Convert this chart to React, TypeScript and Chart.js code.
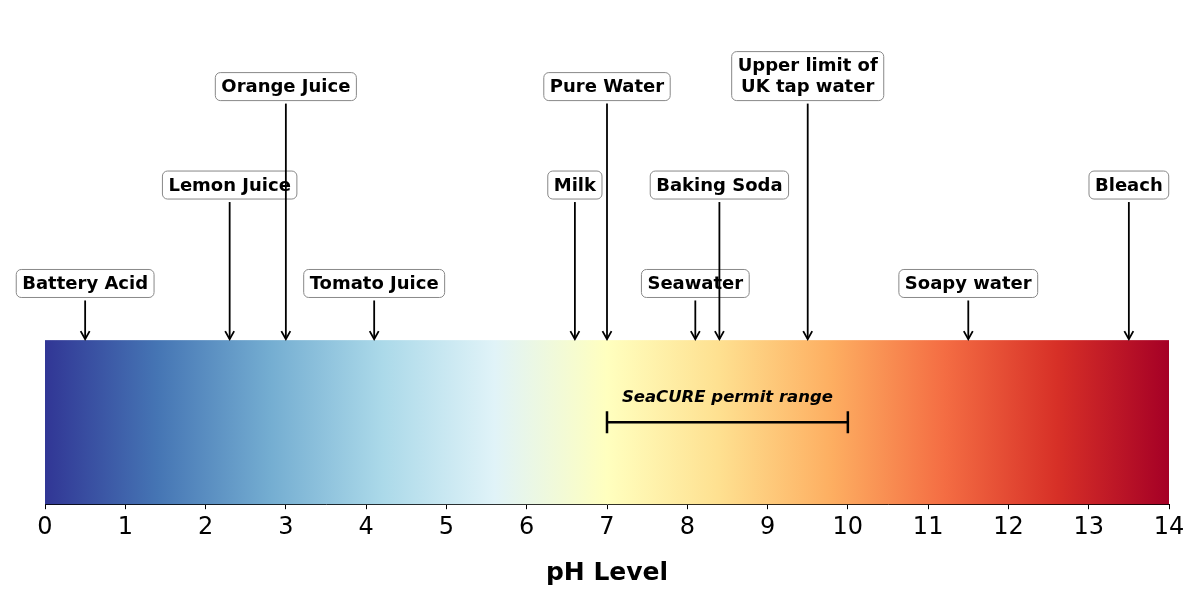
import React, { useEffect, useRef } from "react";
import { Chart, registerables } from "chart.js";

Chart.register(...registerables);

// Reference substances on the pH scale
const markerLabels = [
  "Battery Acid",
  "Lemon Juice",
  "Orange Juice",
  "Tomato Juice",
  "Milk",
  "Pure Water",
  "Seawater",
  "Baking Soda",
  "Upper limit of\nUK tap water",
  "Soapy water",
  "Bleach",
];
const markerPh = [0.5, 2.3, 3.0, 4.1, 6.6, 7.0, 8.1, 8.4, 9.5, 11.5, 13.5];
// Which row of labels each marker sits in (0 = closest to the bar)
const markerTier = [0, 1, 2, 0, 1, 2, 0, 1, 2, 0, 1];
// Bottom edge of each label row, in y units (bar spans 0..1)
const tierBottom = [1.26, 1.86, 2.46];

// SeaCURE operating window
const permitRange = [7, 10];
const permitLevel = 0.5;
const permitTextLevel = 0.65;
const permitText = "SeaCURE permit range";

// Axis ticks
const tickValues = [0, 1, 2, 3, 4, 5, 6, 7, 8, 9, 10, 11, 12, 13, 14];

// RdYlBu reversed
const colormapStops = [
  "#313695",
  "#4575b4",
  "#74add1",
  "#abd9e9",
  "#e0f3f8",
  "#ffffbf",
  "#fee090",
  "#fdae61",
  "#f46d43",
  "#d73027",
  "#a50026",
];

const FONT = "'DejaVu Sans', sans-serif";

const phScalePlugin = {
  id: "phScale",
  beforeDatasetsDraw(chart: any) {
    const { ctx, scales } = chart;
    const x = scales.x;
    const y = scales.y;
    const x0 = x.getPixelForValue(0);
    const x1 = x.getPixelForValue(14);
    const yTop = y.getPixelForValue(1);
    const yBot = y.getPixelForValue(0);
    const grad = ctx.createLinearGradient(x0, 0, x1, 0);
    colormapStops.forEach((c, i) => grad.addColorStop(i / (colormapStops.length - 1), c));
    ctx.save();
    ctx.fillStyle = grad;
    ctx.fillRect(x0, yTop, x1 - x0, yBot - yTop);
    ctx.restore();
  },
  afterDatasetsDraw(chart: any) {
    const { ctx, scales } = chart;
    const x = scales.x;
    const y = scales.y;
    ctx.save();

    // Permit range bracket
    const px0 = x.getPixelForValue(permitRange[0]);
    const px1 = x.getPixelForValue(permitRange[1]);
    const py = y.getPixelForValue(permitLevel);
    ctx.strokeStyle = "#000";
    ctx.lineWidth = 2.5;
    ctx.beginPath();
    ctx.moveTo(px0, py);
    ctx.lineTo(px1, py);
    ctx.moveTo(px0, py - 11);
    ctx.lineTo(px0, py + 11);
    ctx.moveTo(px1, py - 11);
    ctx.lineTo(px1, py + 11);
    ctx.stroke();
    ctx.fillStyle = "#000";
    ctx.font = `italic bold 16.5px ${FONT}`;
    ctx.textAlign = "center";
    ctx.textBaseline = "middle";
    ctx.fillText(
      permitText,
      x.getPixelForValue((permitRange[0] + permitRange[1]) / 2),
      y.getPixelForValue(permitTextLevel)
    );

    // Labelled arrows
    const fs = 18;
    const lineStep = 21;
    const padX = 6;
    const padY = 5;
    ctx.font = `bold ${fs}px ${FONT}`;
    const tipY = y.getPixelForValue(1) - 1;
    markerLabels.forEach((label, i) => {
      const lines = label.split("\n");
      const cx = x.getPixelForValue(markerPh[i]);
      const bottom = y.getPixelForValue(tierBottom[markerTier[i]]);
      const w = Math.max(...lines.map((l) => ctx.measureText(l).width)) + padX * 2;
      const h = fs + (lines.length - 1) * lineStep + padY * 2;
      const top = bottom - h;

      // arrow
      ctx.strokeStyle = "#000";
      ctx.lineWidth = 1.8;
      ctx.beginPath();
      ctx.moveTo(cx, bottom + 3);
      ctx.lineTo(cx, tipY);
      ctx.stroke();
      ctx.beginPath();
      ctx.moveTo(cx - 4.5, tipY - 8);
      ctx.lineTo(cx, tipY);
      ctx.lineTo(cx + 4.5, tipY - 8);
      ctx.stroke();

      // box
      ctx.fillStyle = "#fff";
      ctx.strokeStyle = "#888";
      ctx.lineWidth = 1;
      ctx.beginPath();
      ctx.roundRect(cx - w / 2, top, w, h, 5);
      ctx.fill();
      ctx.stroke();

      // text
      ctx.fillStyle = "#000";
      ctx.textAlign = "center";
      ctx.textBaseline = "middle";
      lines.forEach((l, k) => {
        ctx.fillText(l, cx, top + padY + fs / 2 + k * lineStep + 1);
      });
    });
    ctx.restore();
  },
};

export default function App() {
  const canvasRef = useRef<HTMLCanvasElement | null>(null);

  useEffect(() => {
    if (!canvasRef.current) return;
    const chart = new Chart(canvasRef.current, {
      type: "scatter",
      data: { datasets: [] },
      options: {
        animation: false,
        responsive: false,
        devicePixelRatio: 1,
        layout: { padding: { left: 45, right: 31, top: 12, bottom: 12 } },
        plugins: { legend: { display: false }, tooltip: { enabled: false } },
        scales: {
          x: {
            type: "linear",
            min: 0,
            max: 14,
            afterBuildTicks: (axis: any) => {
              axis.ticks = tickValues.map((v) => ({ value: v }));
            },
            ticks: {
              color: "#000",
              font: { family: FONT, size: 24 },
              padding: 4,
              maxRotation: 0,
              autoSkip: false,
            },
            grid: {
              display: true,
              drawOnChartArea: false,
              drawTicks: true,
              tickLength: 5,
              color: "#000",
              tickWidth: 1,
            },
            border: { display: true, color: "#000", width: 1 },
            title: {
              display: true,
              text: "pH Level",
              color: "#000",
              font: { family: FONT, size: 25, weight: "bold" },
              padding: { top: 12, bottom: 0 },
            },
          },
          y: {
            display: false,
            min: 0,
            max: 3,
          },
        },
      },
      plugins: [phScalePlugin],
    } as any);
    return () => chart.destroy();
  }, []);

  return (
    <div style={{ position: "absolute", left: 0, top: 0, width: 1200, height: 600, background: "#fff" }}>
      <canvas ref={canvasRef} width={1200} height={600} />
    </div>
  );
}
